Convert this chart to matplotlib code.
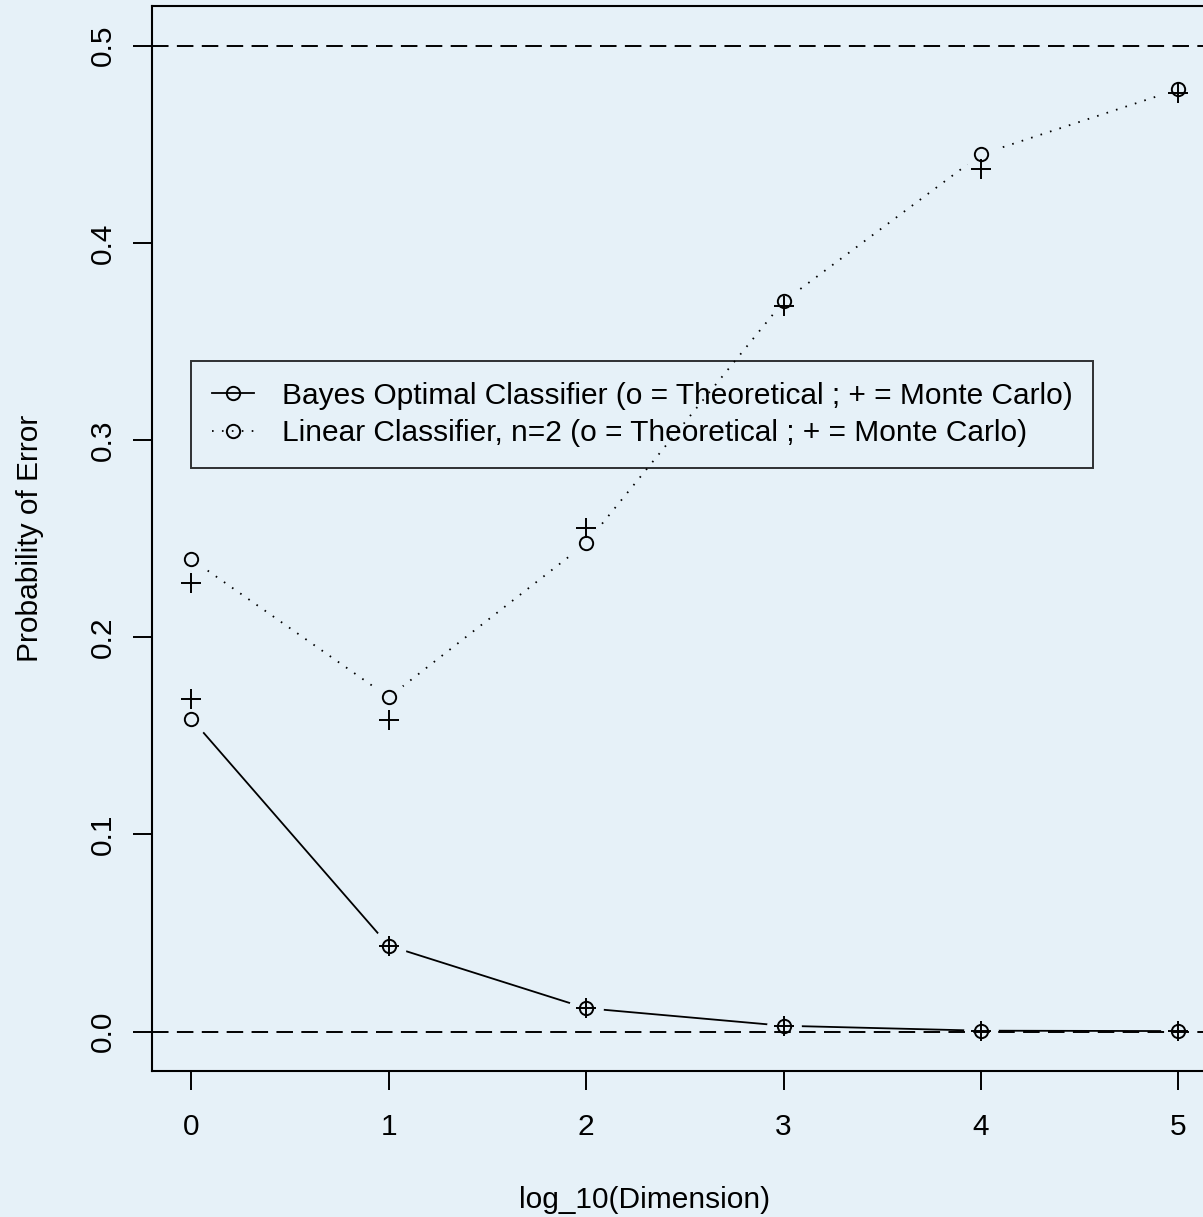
import numpy as np
import matplotlib
matplotlib.use("Agg")
import matplotlib.pyplot as plt
from matplotlib.lines import Line2D

plt.rcParams['font.family'] = ['Liberation Sans', 'DejaVu Sans']

# error rates against log10 of the dimension
log_dim = [0, 1, 2, 3, 4, 5]
bayes_theory = [0.1587, 0.0436, 0.0119, 0.0030, 0.0005, 0.0003]
bayes_mc = [0.1686, 0.0436, 0.0119, 0.0030, 0.0005, 0.0003]
linear_theory = [0.2396, 0.1696, 0.2477, 0.3703, 0.4449, 0.4779]
linear_mc = [0.2277, 0.1581, 0.2553, 0.3681, 0.4373, 0.4759]

legend_labels = ['Bayes Optimal Classifier (o = Theoretical ; + = Monte Carlo)',
                 'Linear Classifier, n=2 (o = Theoretical ; + = Monte Carlo)']

bg = '#E6F1F8'
fs = 21.5
lw = 1.3

fig = plt.figure(figsize=(12.03, 12.17), dpi=100, facecolor=bg)
ax = fig.add_axes([0.12627, 0.11988, 0.8860, 0.87494], facecolor=bg)
ax.set_xlim(-0.2, 5.2)
ax.set_ylim(-0.02, 0.52)

dotted = (0, (0.9, 4.6))
dashed = (0, (8.5, 4.3))

# connecting lines, with gaps cut around the points
ax.plot(log_dim, bayes_theory, color='k', lw=lw, zorder=2)
ax.plot(log_dim, linear_theory, color='k', lw=lw, ls=dotted, zorder=2)
for ys in (bayes_theory, linear_theory):
    ax.plot(log_dim, ys, ls='none', marker='o', ms=25, mfc=bg, mec='none', zorder=3)

ax.axhline(0.0, color='k', lw=1.4, ls=dashed, zorder=4)
ax.axhline(0.5, color='k', lw=1.4, ls=dashed, zorder=4)

for ys in (bayes_theory, linear_theory):
    ax.plot(log_dim, ys, ls='none', marker='o', ms=9.6, mfc='none', mec='k', mew=1.4, zorder=5)
for ys in (bayes_mc, linear_mc):
    ax.plot(log_dim, ys, ls='none', marker='+', ms=14.5, mec='k', mew=1.4, zorder=5)

handles = [Line2D([], [], color='k', lw=lw, marker='o', ms=9.6, mfc='none', mew=1.4),
           Line2D([], [], color='k', lw=lw, ls=dotted, marker='o', ms=9.6, mfc='none', mew=1.4)]
leg = ax.legend(handles, legend_labels, loc='upper left', bbox_to_anchor=(0.0, 0.34),
                bbox_transform=ax.transData, borderaxespad=0, fontsize=fs,
                frameon=True, fancybox=False, edgecolor='k', facecolor='none',
                borderpad=0.69, labelspacing=0.31, handlelength=1.4, handletextpad=0.94)
leg.get_frame().set_linewidth(1.4)
leg.set_zorder(6)

ax.set_xticks(log_dim)
ax.set_yticks([0.0, 0.1, 0.2, 0.3, 0.4, 0.5])
ax.set_yticklabels(['0.0', '0.1', '0.2', '0.3', '0.4', '0.5'], rotation=90, va='center')
ax.tick_params(axis='both', direction='out', length=13.5, width=1.4, labelsize=fs)
ax.tick_params(axis='x', pad=17)
ax.tick_params(axis='y', pad=12)

for side in ('left', 'bottom', 'top', 'right'):
    ax.spines[side].set_linewidth(1.5)

ax.set_xlabel('log_10(Dimension)', fontsize=fs)
ax.set_ylabel('Probability of Error', fontsize=fs)
ax.xaxis.set_label_coords(0.4625, -0.108)
ax.yaxis.set_label_coords(-0.1015, 0.5)

fig.savefig('out.png', dpi=100, facecolor=bg)
